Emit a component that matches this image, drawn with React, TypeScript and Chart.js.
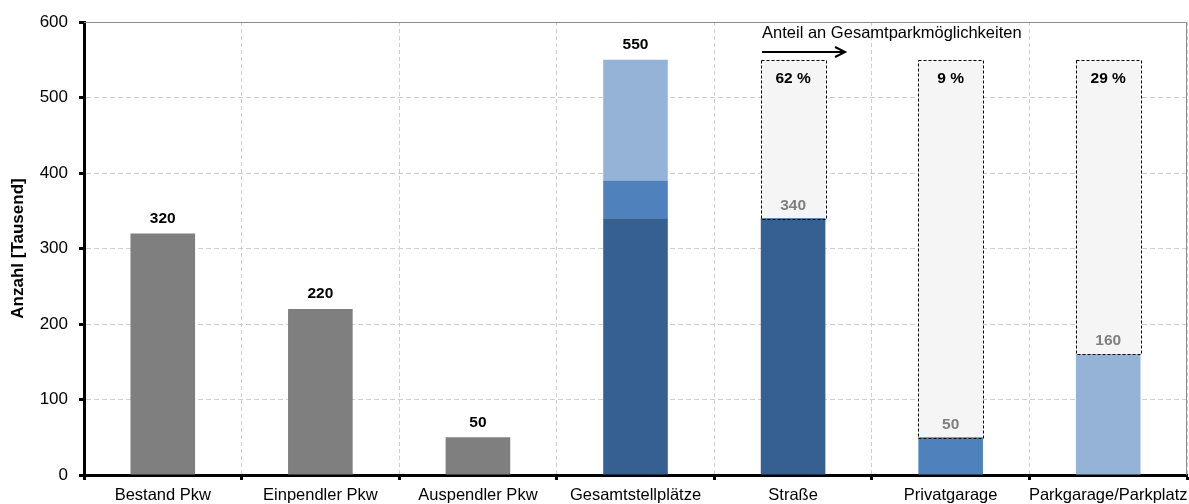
import React, { useEffect, useRef } from "react";
import { Chart, registerables } from "chart.js";

Chart.register(...registerables);

const categories = ["Bestand Pkw", "Einpendler Pkw", "Auspendler Pkw", "Gesamtstellplätze", "Straße", "Privatgarage", "Parkgarage/Parkplatz"];
const grayValues = [320, 220, 50, null, null, null, null];
const strasseValues = [null, null, null, 340, 340, null, null];
const privatValues = [null, null, null, 50, null, 50, null];
const parkValues = [null, null, null, 160, null, null, 160];
const totalParking = 550;
const shareLabels = [null, null, null, null, "62 %", "9 %", "29 %"];
const yTicks = [0, 100, 200, 300, 400, 500, 600];
const annotationText = "Anteil an Gesamtparkmöglichkeiten";

const FONT = "'Liberation Sans', Arial, Helvetica, sans-serif";

export default function App() {
  const ref = useRef<HTMLCanvasElement>(null);
  useEffect(() => {
    const canvas = ref.current!;
    const partValues = categories.map((_, i) => strasseValues[i] ?? privatValues[i] ?? parkValues[i] ?? null);
    const boxValues = categories.map((_, i) => (i >= 4 && partValues[i] != null ? totalParking - (partValues[i] as number) : null));
    const boxIndex = 4;

    const labelPlugin = {
      id: "labels",
      afterDatasetsDraw(chart: any) {
        const { ctx, scales } = chart;
        const x = scales.x;
        const y = scales.y;
        const meta = chart.getDatasetMeta(boxIndex);
        ctx.save();
        meta.data.forEach((el: any, i: number) => {
          if (boxValues[i] == null) return;
          const p = el.getProps(["x", "y", "base", "width"], true);
          ctx.strokeStyle = "#000";
          ctx.lineWidth = 1;
          ctx.setLineDash([3, 2]);
          ctx.strokeRect(Math.round(p.x - p.width / 2) + 0.5, Math.round(p.y) + 0.5, Math.round(p.width), Math.round(p.base - p.y));
        });
        ctx.setLineDash([]);
        ctx.textAlign = "center";
        ctx.textBaseline = "middle";
        ctx.font = `bold 15.5px ${FONT}`;
        ctx.fillStyle = "#000";
        categories.forEach((_, i) => {
          let v: number | null = null;
          if (grayValues[i] != null) v = grayValues[i] as number;
          if (i === 3) v = totalParking;
          if (v == null) return;
          ctx.fillText(String(v), x.getPixelForValue(i), y.getPixelForValue(v) - 15);
        });
        ctx.fillStyle = "#7f7f7f";
        categories.forEach((_, i) => {
          if (i < 4 || partValues[i] == null) return;
          const v = partValues[i] as number;
          ctx.fillText(String(v), x.getPixelForValue(i), y.getPixelForValue(v) - 13);
        });
        ctx.fillStyle = "#000";
        categories.forEach((_, i) => {
          if (!shareLabels[i]) return;
          ctx.fillText(shareLabels[i] as string, x.getPixelForValue(i), y.getPixelForValue(totalParking) + 19);
        });
        ctx.font = `16.5px ${FONT}`;
        ctx.textAlign = "left";
        ctx.textBaseline = "middle";
        const ax = x.getPixelForValue(4) - 31;
        ctx.fillText(annotationText, ax, 33);
        const ay = 52;
        const aEnd = x.getPixelForValue(4) + 52;
        ctx.strokeStyle = "#000";
        ctx.lineWidth = 2;
        ctx.beginPath();
        ctx.moveTo(ax, ay);
        ctx.lineTo(aEnd - 2, ay);
        ctx.stroke();
        ctx.beginPath();
        ctx.moveTo(aEnd - 10, ay - 5);
        ctx.lineTo(aEnd, ay);
        ctx.lineTo(aEnd - 10, ay + 5);
        ctx.stroke();
        ctx.restore();
      },
      beforeDatasetsDraw(chart: any) {
        const { ctx, chartArea } = chart;
        ctx.save();
        ctx.strokeStyle = "#8c8c8c";
        ctx.lineWidth = 1;
        ctx.beginPath();
        ctx.moveTo(chartArea.left, chartArea.top + 0.5);
        ctx.lineTo(chartArea.right - 0.5, chartArea.top + 0.5);
        ctx.lineTo(chartArea.right - 0.5, chartArea.bottom);
        ctx.stroke();
        ctx.restore();
      },
    };

    const chart = new Chart(canvas, {
      type: "bar",
      data: {
        labels: categories,
        datasets: [
          { data: grayValues as any, backgroundColor: "#7f7f7f" },
          { data: strasseValues as any, backgroundColor: "#376092" },
          { data: privatValues as any, backgroundColor: "#4f81bd" },
          { data: parkValues as any, backgroundColor: "#95b3d7" },
          { data: boxValues as any, backgroundColor: "#f5f5f5" },
        ],
      },
      options: {
        animation: false,
        responsive: false,
        maintainAspectRatio: false,
        layout: { padding: { left: 0, top: 22, right: 2, bottom: 0 } },
        datasets: { bar: { barPercentage: 0.41, categoryPercentage: 1, borderWidth: 0 } },
        plugins: { legend: { display: false }, tooltip: { enabled: false } },
        scales: {
          x: {
            stacked: true,
            offset: true,
            grid: {
              offset: true,
              color: "#cfcfcf",
              lineWidth: 1,
              tickColor: "#000",
              tickWidth: 3,
              tickLength: 5,
            },
            border: { display: true, color: "#000", width: 3, dash: [4, 3] },
            ticks: { color: "#000", font: { family: FONT, size: 16.5 }, padding: 6, maxRotation: 0, autoSkip: false },
            afterFit(scale: any) {
              scale.height = 29;
              scale.paddingLeft = 0;
              scale.paddingRight = 0;
            },
          },
          y: {
            stacked: true,
            min: 0,
            max: 600,
            grid: {
              color: "#cfcfcf",
              lineWidth: 1,
              tickColor: "#000",
              tickWidth: 3,
              tickLength: 5,
            },
            border: { display: true, color: "#000", width: 3, dash: [5, 3] },
            ticks: {
              stepSize: 100,
              color: "#000",
              font: { family: FONT, size: 17 },
              padding: 11,
              callback: (v: any) => (yTicks.includes(v) ? String(v) : ""),
            },
            title: {
              display: true,
              text: "Anzahl [Tausend]",
              color: "#000",
              font: { family: FONT, size: 17, weight: "bold" },
              padding: { top: 8, bottom: 0 },
            },
            afterFit(scale: any) {
              scale.width = 84;
              scale.paddingTop = 0;
              scale.paddingBottom = 0;
            },
          },
        },
      } as any,
      plugins: [labelPlugin],
    });
    return () => chart.destroy();
  }, []);
  return (
    <div style={{ position: "fixed", left: 0, top: 0, width: 1189, height: 504, background: "#fff" }}>
      <canvas ref={ref} width={1189} height={504} style={{ display: "block" }} />
    </div>
  );
}
